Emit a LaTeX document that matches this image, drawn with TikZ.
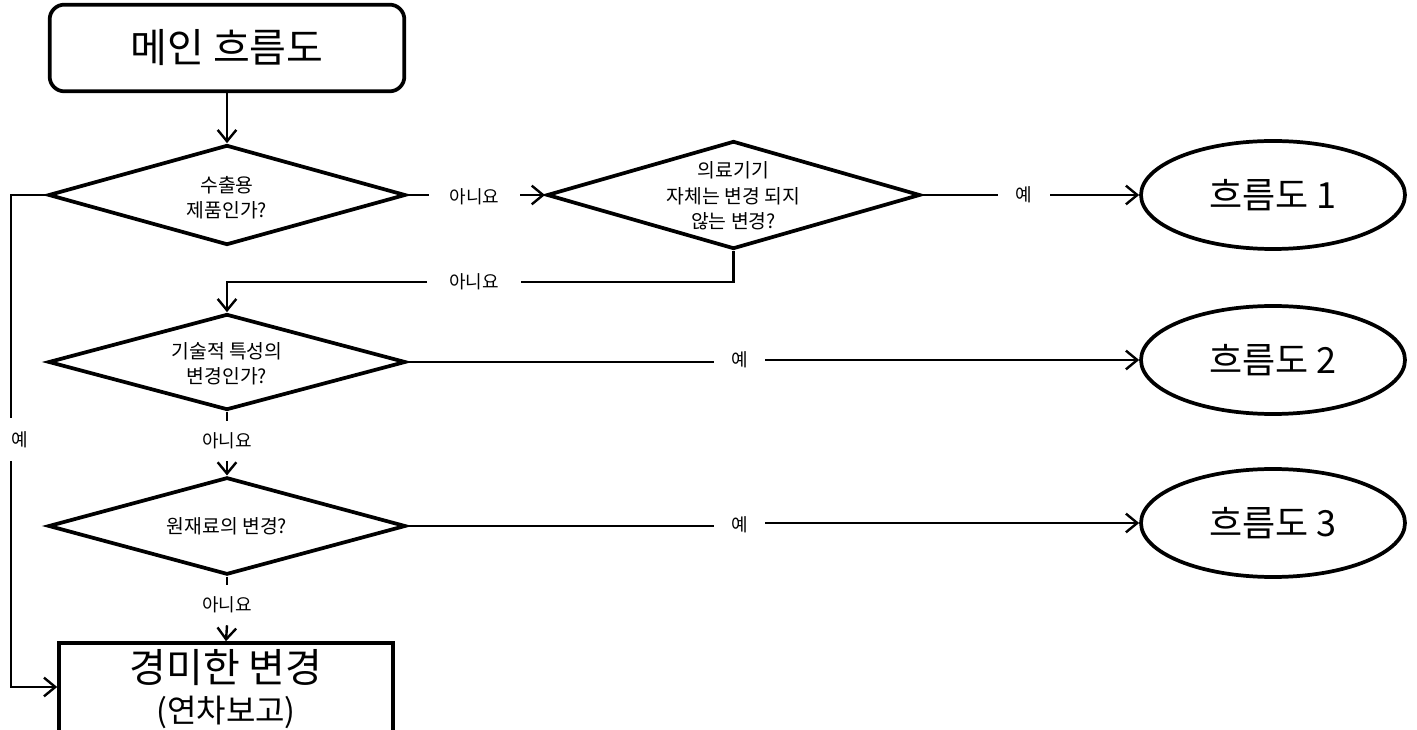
\documentclass[tikz,border=0pt]{standalone}
\usepackage{fontspec}
\setmainfont{Noto Sans CJK KR}
\usetikzlibrary{shapes.geometric,arrows.meta}
\begin{document}
\begin{tikzpicture}[x=0.75pt,y=-0.75pt,
  shapeline/.style={draw=black,line width=2.8pt},
  conn/.style={draw=black,line width=1.8pt},
  arr/.style={conn,-{Straight Barb[length=8.5pt,width=14pt,line width=1.8pt]}},
  decision/.style={shapeline,diamond,minimum width=268pt,minimum height=75pt,inner sep=0pt},
  dtext/.style={align=center,font=\fontsize{14.5}{19}\selectfont},
  flow/.style={shapeline,ellipse,minimum width=198pt,minimum height=81pt,inner sep=0pt,font=\fontsize{27}{30}\selectfont},
  lbl/.style={inner sep=0pt,font=\fontsize{13.5}{16}\selectfont}
]
\useasboundingbox (0,0) rectangle (1417,730);

\node[shapeline,rectangle,rounded corners=11pt,minimum width=266pt,minimum height=65pt,
  font=\fontsize{30}{34}\selectfont] (main) at (227,48) {메인 흐름도};

\node[decision] (d1) at (227,195) {};
\node[dtext] (t1) at (227,198) {수출용\\제품인가?};

\node[decision,minimum width=280pt,minimum height=81pt] (d2) at (733.5,195) {};
\node[dtext] (t2) at (733.5,196) {의료기기\\자체는 변경 되지\\않는 변경?};

\node[decision,minimum height=72pt] (d3) at (227,362) {};
\node[dtext] (t3) at (227,364) {기술적 특성의\\변경인가?};

\node[decision,minimum height=73pt] (d4) at (227,526) {};
\node[dtext] (t4) at (227,526) {원재료의 변경?};

\node[flow] (f1) at (1273,195) {흐름도 1};
\node[flow] (f2) at (1273,360) {흐름도 2};
\node[flow] (f3) at (1273,523) {흐름도 3};

\node[shapeline,line width=3.2pt,rectangle,minimum width=250pt,minimum height=70pt,inner sep=0pt] (minor) at (226,690) {};
\node[font=\fontsize{30}{32}\selectfont] (mt1) at (226,668) {경미한 변경};
\node[font=\fontsize{24}{26}\selectfont] (mt2) at (226,712) {(연차보고)};

% labels (their size sets the gap in the line)
\node[lbl,minimum width=68pt] (n1) at (474.5,197) {아니요};
\node[lbl,minimum width=39pt] (y1) at (1024,195) {예};
\node[lbl,minimum width=70pt] (n2) at (474,282) {아니요};
\node[lbl,minimum width=38pt] (y2) at (739.5,360) {예};
\node[lbl,minimum width=38pt] (y3) at (739.5,525) {예};
\node[lbl,minimum height=30pt] (n3) at (227,441) {아니요};
\node[lbl,minimum height=30pt] (n4) at (227,605) {아니요};
\node[lbl] (y4) at (20,440) {예};

% connectors
\draw[arr] (main) -- (d1.north);
\draw[conn] (d1.east) -- (n1.west |- d1.east);
\draw[arr] (n1.east |- d2.west) -- (d2.west);
\draw[conn] (d2.east) -- (y1.west |- d2.east);
\draw[arr] (y1.east |- f1.west) -- (f1.west);
\coordinate (c2) at (733.5,282);
\coordinate (c3) at (227,282);
\draw[conn] (d2.south) -- (c2) -- (n2.east |- c2);
\draw[arr] (n2.west |- c3) -- (c3) -- (d3.north);
\draw[conn] (d3.east) -- (y2.west |- d3.east);
\draw[arr] (y2.east |- f2.west) -- (f2.west);
\draw[conn] (d4.east) -- (y3.west |- d4.east);
\draw[arr] (y3.east |- f3.west) -- (f3.west);
\draw[conn] (d3.south) -- (n3.north);
\draw[arr] (n3.south) -- (d4.north);
\draw[conn] (d4.south) -- (n4.north);
\draw[arr] (n4.south) -- (minor.north);
\coordinate (l1) at (11,195);
\coordinate (l2) at (11,418);
\coordinate (l3) at (11,461);
\coordinate (l4) at (11,687);
\draw[conn] (d1.west) -- (l1) -- (l2);
\draw[arr] (l3) -- (l4) -- (l4 -| minor.west);
\end{tikzpicture}
\end{document}
